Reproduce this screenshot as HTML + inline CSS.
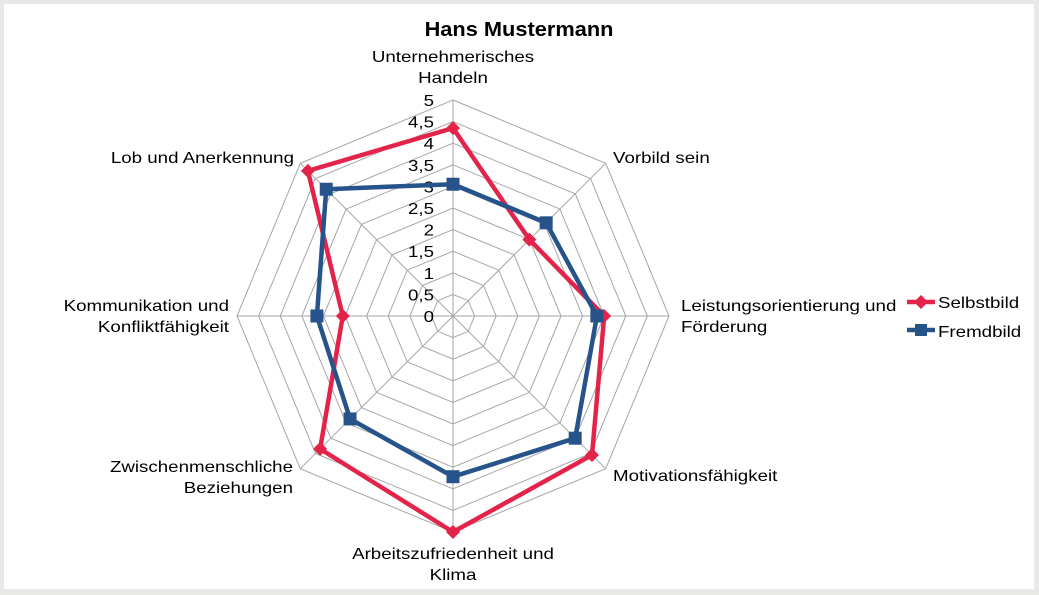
<!DOCTYPE html>
<html><head><meta charset="utf-8"><style>
html,body{margin:0;padding:0;background:#e8e8e6;}
body{width:1039px;height:595px;position:relative;overflow:hidden;font-family:"Liberation Sans",Arial,sans-serif;}
#box{position:absolute;left:4px;top:4px;width:1030px;height:585px;background:#fff;}
svg{position:absolute;left:0;top:0;}
</style></head><body>
<div id="box"></div>
<svg id="s" width="1039" height="595" xmlns="http://www.w3.org/2000/svg" font-family="Liberation Sans, Arial, sans-serif"></svg>
<script>
const cx=453,cy=316,R=216,N=8;
const s=document.getElementById('s');
let h='';
function pt(i,r){const a=-Math.PI/2+i*2*Math.PI/N;return [cx+r*Math.cos(a),cy+r*Math.sin(a)];}
function T(x,y,t,a,fs,sx,extra){return `<text transform="translate(${x},${y}) scale(${sx},1)" x="0" y="0" font-size="${fs}" text-anchor="${a}" ${extra||''}>${t}</text>`;}
for(let k=1;k<=10;k++){let p=[];for(let i=0;i<N;i++){p.push(pt(i,R*k/10).map(v=>v.toFixed(1)).join(','));}
h+=`<polygon points="${p.join(' ')}" fill="none" stroke="#a6a6a6" stroke-width="1"/>`;}
for(let i=0;i<N;i++){const [x,y]=pt(i,R);h+=`<line x1="${cx}" y1="${cy}" x2="${x.toFixed(1)}" y2="${y.toFixed(1)}" stroke="#a6a6a6" stroke-width="1"/>`;}
const ticks=['0','0,5','1','1,5','2','2,5','3','3,5','4','4,5','5'];
ticks.forEach((t,k)=>{h+=T(434,(cy-R*k/10+6).toFixed(1),t,'end',16,1.17);});
const self=[4.35,2.5,3.5,4.55,5,4.35,2.55,4.75];
const fremd=[3.05,3.05,3.33,4.0,3.72,3.37,3.15,4.15];
function series(d,c,marker){let p=d.map((v,i)=>pt(i,R*v/5));
h+=`<polygon points="${p.map(q=>q.map(v=>v.toFixed(1)).join(',')).join(' ')}" fill="none" stroke="${c}" stroke-width="4.5" stroke-linejoin="round"/>`;
p.forEach(([x,y])=>{if(marker=='d')h+=`<polygon points="${x},${y-7} ${x+7},${y} ${x},${y+7} ${x-7},${y}" fill="${c}"/>`;else h+=`<rect x="${x-6.5}" y="${y-6.5}" width="13" height="13" fill="${c}"/>`;});}
series(self,'#e4234a','d');
series(fremd,'#25538a','s');
h+=T(519,36,'Hans Mustermann','middle',20,1.09,'font-weight="bold"');
const L=[[453,62,'middle',['Unternehmerisches','Handeln']],[613,163,'start',['Vorbild sein']],[681,311,'start',['Leistungsorientierung und','Förderung']],[613,481,'start',['Motivationsfähigkeit']],[453,559,'middle',['Arbeitszufriedenheit und','Klima']],[293,472,'end',['Zwischenmenschliche','Beziehungen']],[229,311,'end',['Kommunikation und','Konfliktfähigkeit']],[294,163,'end',['Lob und Anerkennung']]];
L.forEach(([x,y,a,ls])=>{ls.forEach((t,j)=>{h+=T(x,y+j*21,t,a,16,1.17);});});
h+=`<line x1="907" y1="302" x2="935" y2="302" stroke="#e4234a" stroke-width="4.5"/><polygon points="921,295 928,302 921,309 914,302" fill="#e4234a"/>`;
h+=T(938,308,'Selbstbild','start',16,1.17);
h+=`<line x1="907" y1="330" x2="935" y2="330" stroke="#25538a" stroke-width="4.5"/><rect x="915" y="324" width="12" height="12" fill="#25538a"/>`;
h+=T(938,337,'Fremdbild','start',16,1.17);
s.innerHTML=h;
</script>
</body></html>
